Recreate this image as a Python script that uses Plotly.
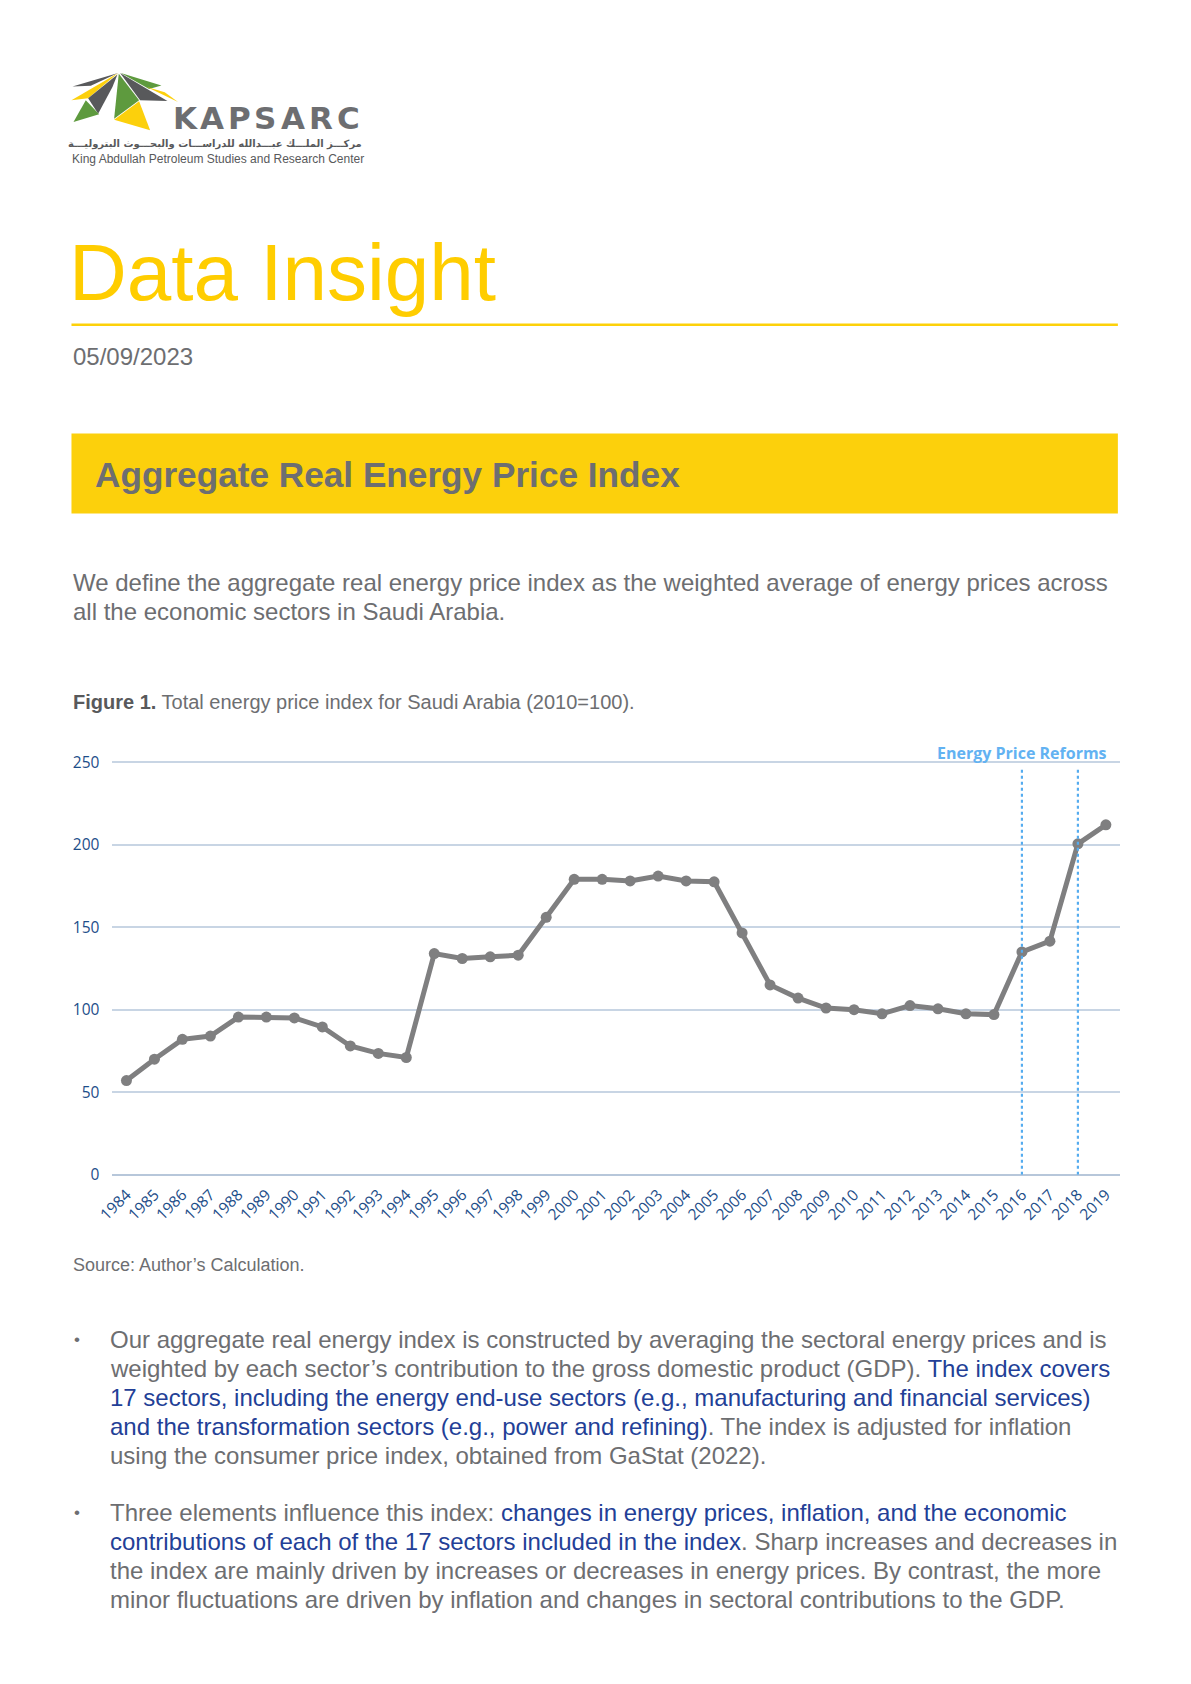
import plotly.graph_objects as go

# ---------------- data ----------------
years = [str(y) for y in range(1984, 2020)]
index_values = [57, 70, 82, 84, 95.5, 95.5, 95, 89.5, 78, 73.5, 71,
                134, 131, 132, 133, 156, 179, 179, 178, 181, 178, 177.5,
                146.5, 115, 107, 101, 100, 97.5, 102.5, 100.5, 97.5, 97,
                135, 141.5, 200.5, 212]
reform_years = ["2016", "2018"]
y_ticks = [0, 50, 100, 150, 200, 250]

# ---------------- page geometry helpers ----------------
W, H = 1191, 1684
# small correction for the page offset / scale observed in the rendered screenshot
KX, OX = 1.0139, -25.85
KY, OY = 1.0095, -15.0


def fx(x):
    return KX * x + OX


def fy(y):
    return KY * y + OY


def px(x):
    return fx(x) / W


def py(y):
    return 1 - fy(y) / H


GRAY = "#6d6e71"
DARKGRAY = "#58595b"
YELLOW = "#fcd00c"
GREEN = "#5e9a3e"
BLUE_TXT = "#233f97"
TICK_BLUE = "#1d4e89"
REF_BLUE = "#55acef"

fig = go.Figure()

fig.add_trace(go.Scatter(
    x=years, y=index_values, mode="lines+markers",
    line=dict(color="#7f7f80", width=5),
    marker=dict(color="#7f7f80", size=11),
    cliponaxis=False, hoverinfo="skip", showlegend=False,
))

shapes = []
annotations = []

# ---------------- logo ----------------
def zc(zx, zy):
    return px(68 + zx / 3), py(66 + zy / 3)


logo_polys = [
    ([(152, 18), (15, 58), (70, 56)], DARKGRAY),
    ([(152, 18), (12, 100), (62, 94)], YELLOW),
    ([(150, 22), (62, 94), (92, 140), (135, 60)], DARKGRAY),
    ([(55, 100), (18, 165), (95, 142)], GREEN),
    ([(154, 20), (140, 155), (215, 100)], GREEN),
    ([(140, 158), (215, 103), (248, 190)], YELLOW),
    ([(158, 18), (300, 102), (218, 100)], DARKGRAY),
    ([(160, 18), (282, 55), (245, 66)], GREEN),
    ([(238, 60), (332, 105), (292, 76)], YELLOW),
]
for pts, col in logo_polys:
    path = "M " + " L ".join(f"{zc(a, b)[0]:.5f} {zc(a, b)[1]:.5f}" for a, b in pts) + " Z"
    shapes.append(dict(type="path", xref="paper", yref="paper", path=path,
                       fillcolor=col, line=dict(width=0), layer="above"))

kap_centers = [186, 213, 240, 266, 294, 322, 349]
for ch, cx in zip("KAPSARC", kap_centers):
    annotations.append(dict(text=f"<b>{ch}</b>", x=px(cx), y=py(117), xref="paper", yref="paper",
                            xanchor="center", yanchor="middle", showarrow=False,
                            font=dict(family="DejaVu Sans", size=31, color=GRAY)))

annotations.append(dict(text="<b>مركـــز الملـــك عبـــدالله للدراســـات والبحـــوث البتروليـــة</b>",
                        x=px(365), y=py(143), xref="paper", yref="paper",
                        xanchor="right", yanchor="middle", showarrow=False,
                        font=dict(family="DejaVu Sans", size=10, color=DARKGRAY)))
annotations.append(dict(text="King Abdullah Petroleum Studies and Research Center",
                        x=px(71), y=py(158), xref="paper", yref="paper",
                        xanchor="left", yanchor="middle", showarrow=False,
                        font=dict(family="Liberation Sans", size=12, color=DARKGRAY)))

# ---------------- header ----------------
annotations.append(dict(text="Data Insight", x=px(68), y=py(272), xref="paper", yref="paper",
                        xanchor="left", yanchor="middle", showarrow=False,
                        font=dict(family="Liberation Sans", size=80, color="#ffcd00")))
shapes.append(dict(type="line", xref="paper", yref="paper", x0=px(72), x1=px(1119),
                   y0=py(324), y1=py(324), line=dict(color="#fdd10a", width=2.5)))
annotations.append(dict(text="05/09/2023", x=px(72), y=py(356), xref="paper", yref="paper",
                        xanchor="left", yanchor="middle", showarrow=False,
                        font=dict(family="Liberation Sans", size=24, color=GRAY)))

shapes.append(dict(type="rect", xref="paper", yref="paper", x0=px(72), x1=px(1119),
                   y0=py(513), y1=py(433), fillcolor=YELLOW, line=dict(width=0), layer="below"))
annotations.append(dict(text="<b>Aggregate Real Energy Price Index</b>", x=px(94), y=py(474),
                        xref="paper", yref="paper", xanchor="left", yanchor="middle",
                        showarrow=False,
                        font=dict(family="Liberation Sans", size=35.2, color=GRAY)))

intro = ["We define the aggregate real energy price index as the weighted average of energy prices across",
         "all the economic sectors in Saudi Arabia."]
for i, line in enumerate(intro):
    annotations.append(dict(text=line, x=px(72), y=py(582 + 29 * i), xref="paper", yref="paper",
                            xanchor="left", yanchor="middle", showarrow=False,
                            font=dict(family="Liberation Sans", size=24, color=GRAY)))

annotations.append(dict(text=f"<b><span style='color:{DARKGRAY}'>Figure 1.</span></b> Total energy price index for Saudi Arabia (2010=100).",
                        x=px(72), y=py(702), xref="paper", yref="paper",
                        xanchor="left", yanchor="middle", showarrow=False,
                        font=dict(family="Liberation Sans", size=20, color=GRAY)))

# ---------------- chart annotations ----------------
for ry in reform_years:
    idx = years.index(ry)
    shapes.append(dict(type="line", xref="x", yref="y", x0=idx, x1=idx, y0=0, y1=246,
                       line=dict(color=REF_BLUE, width=2.2, dash="dot"), layer="above"))
annotations.append(dict(text="<b>Energy Price Reforms</b>", x=px(1110), y=py(753),
                        xref="paper", yref="paper", xanchor="right", yanchor="middle",
                        showarrow=False, font=dict(family="Open Sans", size=16, color="#62b2f2")))

annotations.append(dict(text="Source: Author’s Calculation.", x=px(72), y=py(1265),
                        xref="paper", yref="paper", xanchor="left", yanchor="middle",
                        showarrow=False, font=dict(family="Liberation Sans", size=18, color=GRAY)))

# ---------------- bullets ----------------
def blue(t):
    return f"<span style='color:{BLUE_TXT}'>{t}</span>"


bullet1 = [
    "Our aggregate real energy index is constructed by averaging the sectoral energy prices and is",
    "weighted by each sector’s contribution to the gross domestic product (GDP). " + blue("The index covers"),
    blue("17 sectors, including the energy end-use sectors (e.g., manufacturing and financial services)"),
    blue("and the transformation sectors (e.g., power and refining)") + ". The index is adjusted for inflation",
    "using the consumer price index, obtained from GaStat (2022).",
]
bullet2 = [
    "Three elements influence this index: " + blue("changes in energy prices, inflation, and the economic"),
    blue("contributions of each of the 17 sectors included in the index") + ". Sharp increases and decreases in",
    "the index are mainly driven by increases or decreases in energy prices. By contrast, the more",
    "minor fluctuations are driven by inflation and changes in sectoral contributions to the GDP.",
]
for start, lines in ((1340, bullet1), (1513, bullet2)):
    annotations.append(dict(text="•", x=px(78), y=py(start), xref="paper", yref="paper",
                            xanchor="center", yanchor="middle", showarrow=False,
                            font=dict(family="Liberation Sans", size=17, color=GRAY)))
    for i, line in enumerate(lines):
        annotations.append(dict(text=line, x=px(109), y=py(start + 29 * i), xref="paper", yref="paper",
                                xanchor="left", yanchor="middle", showarrow=False,
                                font=dict(family="Liberation Sans", size=24, color=GRAY)))

# y range extended a hair so the 250 gridline is drawn inside the plot area
Y_TOP = 252
y_top_px = 1175 - (1175 - 762) * Y_TOP / 250

fig.update_layout(
    width=W, height=H, autosize=False,
    margin=dict(l=0, r=0, t=0, b=0),
    paper_bgcolor="white", plot_bgcolor="white",
    shapes=shapes, annotations=annotations,
    showlegend=False,
    xaxis=dict(domain=[px(113), px(1121)], type="category", categoryorder="array",
               categoryarray=years, range=[-0.5, len(years) - 0.5],
               showgrid=False, zeroline=False, showline=False, tickangle=-45,
               ticks="", tickfont=dict(family="Open Sans", size=15.5, color=TICK_BLUE),
               ticklabelstandoff=7, fixedrange=True),
    yaxis=dict(domain=[py(1175), py(y_top_px)], range=[0, Y_TOP], tickvals=y_ticks,
               showgrid=True, gridcolor="#c8d5e4", gridwidth=1.5,
               zeroline=True, zerolinecolor="#b7c7da", zerolinewidth=1.8,
               showline=False, ticks="",
               tickfont=dict(family="Open Sans", size=15.5, color=TICK_BLUE),
               ticklabelstandoff=12, fixedrange=True),
)

fig.write_html("out.html")
